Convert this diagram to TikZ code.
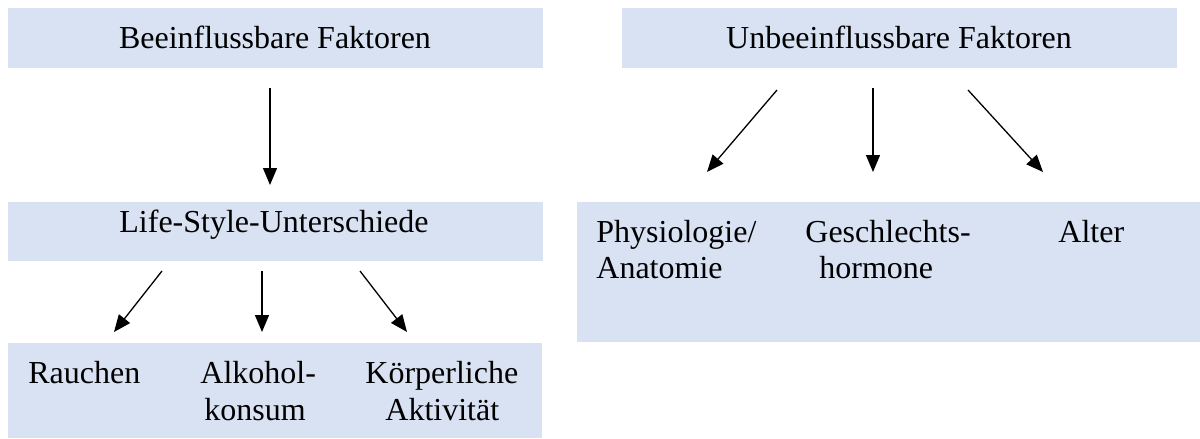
\documentclass[tikz,border=0pt]{standalone}
\usepackage{fontspec}
\setmainfont{Liberation Serif}
\usetikzlibrary{arrows.meta,fit}
\definecolor{boxblue}{RGB}{217,226,243}
\tikzset{
  box/.style={fill=boxblue, draw=none, inner sep=0pt},
  lbl/.style={inner sep=0pt, font=\fontsize{16}{18.5}\selectfont, text=black},
  arr/.style={line width=0.65pt, -{Triangle[length=8.5pt,width=7pt]}}
}
\begin{document}
\begin{tikzpicture}[x=0.5pt,y=-0.5pt]
\useasboundingbox (0,0) rectangle (1200,439);
% boxes
\node[box, fit={(8,8)(543,68)}] (B1) {};
\node[box, fit={(8,202)(543,261)}] (B2) {};
\node[box, fit={(8,343)(542,438)}] (B3) {};
\node[box, fit={(622,8)(1177,68)}] (U1) {};
\node[box, fit={(577,202)(1200,342)}] (U2) {};
% texts
\node[lbl, anchor=base] (t1) at (275,48) {Beeinflussbare Faktoren};
\node[lbl, anchor=base] (t2) at (899,48) {Unbeeinflussbare Faktoren};
\node[lbl, anchor=base] (t3) at (274,232) {Life-Style-Unterschiede};
\node[lbl, anchor=base west] (r1) at (28,383) {Rauchen};
\node[lbl, anchor=base west] (a1) at (200,383) {Alkohol-};
\node[lbl, anchor=base west] (a2) at (204,420) {konsum};
\node[lbl, anchor=base west] (k1) at (365,383) {Körperliche};
\node[lbl, anchor=base west] (k2) at (385,420) {Aktivität};
\node[lbl, anchor=base west] (p1) at (596,242) {Physiologie/};
\node[lbl, anchor=base west] (p2) at (596,278) {Anatomie};
\node[lbl, anchor=base west] (g1) at (805,242) {Geschlechts-};
\node[lbl, anchor=base west] (g2) at (819,278) {hormone};
\node[lbl, anchor=base west] (al) at (1058,242) {Alter};
% arrow endpoints
\coordinate (m1s) at (270,88);  \coordinate (m1e) at (270,185);
\coordinate (l1s) at (162,271); \coordinate (l1e) at (114,332);
\coordinate (l2s) at (262,271); \coordinate (l2e) at (262,332);
\coordinate (l3s) at (360,271); \coordinate (l3e) at (407,332);
\coordinate (u1s) at (777,90);  \coordinate (u1e) at (707,172);
\coordinate (u2s) at (873,88);  \coordinate (u2e) at (873,172);
\coordinate (u3s) at (968,90);  \coordinate (u3e) at (1043,172);
% arrows
\draw[arr] (m1s) -- (m1e);
\draw[arr] (l1s) -- (l1e);
\draw[arr] (l2s) -- (l2e);
\draw[arr] (l3s) -- (l3e);
\draw[arr] (u1s) -- (u1e);
\draw[arr] (u2s) -- (u2e);
\draw[arr] (u3s) -- (u3e);
\end{tikzpicture}
\end{document}
